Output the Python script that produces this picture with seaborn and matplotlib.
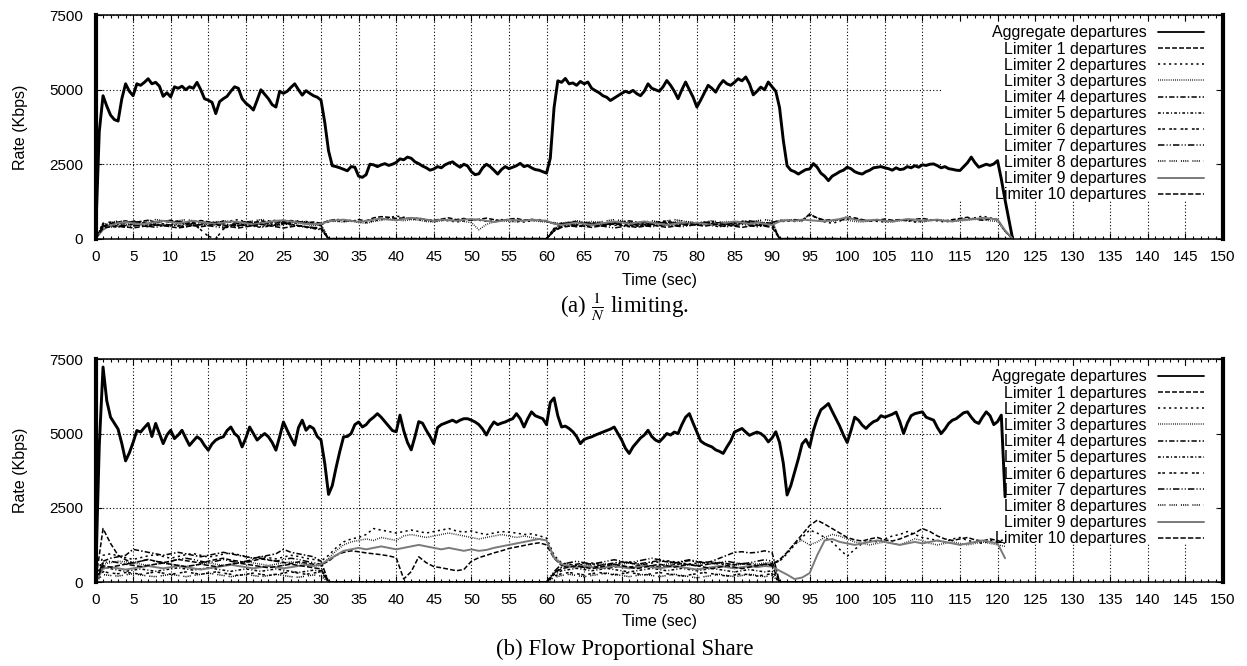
import numpy as np
import matplotlib
matplotlib.use("Agg")
import matplotlib.pyplot as plt
from matplotlib.ticker import MultipleLocator
from matplotlib.patches import Rectangle
import seaborn as sns

# ------------------------------------------------------------------
# (a) 1/N limiting  -- aggregate every 0.5 s (0..122), limiters every 1 s (0..122)
# ------------------------------------------------------------------
agg_a = [0, 3600, 4800, 4450, 4150, 4000, 3950, 4700, 5200, 4950,
         4800, 5200, 5150, 5250, 5370, 5200, 5250, 5120, 4780, 4900,
         4760, 5100, 5050, 5120, 5000, 5100, 5050, 5250, 5000, 4700,
         4650, 4580, 4200, 4600, 4700, 4780, 4950, 5100, 5050, 4700,
         4550, 4450, 4320, 4650, 5000, 4850, 4700, 4500, 4420, 4950,
         4880, 4950, 5080, 5200, 5000, 4820, 4970, 4880, 4800, 4750,
         4650, 3900, 2950, 2450, 2420, 2380, 2330, 2280, 2420, 2400,
         2100, 2060, 2150, 2500, 2480, 2420, 2480, 2520, 2460, 2500,
         2560, 2680, 2650, 2740, 2700, 2580, 2520, 2440, 2380, 2300,
         2340, 2420, 2380, 2480, 2540, 2580, 2480, 2400, 2500, 2440,
         2250, 2150, 2180, 2380, 2500, 2420, 2300, 2170, 2320, 2420,
         2350, 2400, 2450, 2530, 2420, 2460, 2380, 2320, 2300, 2250,
         2200, 2700, 4400, 5300, 5250, 5380, 5200, 5230, 5150, 5280,
         5200, 5260, 5050, 4970, 4900, 4800, 4750, 4640, 4720, 4800,
         4880, 4950, 4900, 4980, 4870, 4800, 4950, 5200, 5050, 5000,
         4950, 5100, 5310, 5150, 4950, 4700, 5000, 5260, 5000, 4750,
         4420, 4650, 4900, 5150, 5050, 4920, 5150, 5310, 5200, 5150,
         5250, 5370, 5300, 5430, 5200, 4830, 4950, 5090, 5000, 5260,
         5100, 4950, 4400, 3300, 2450, 2300, 2250, 2170, 2250, 2320,
         2340, 2520, 2400, 2200, 2100, 1950, 2100, 2170, 2250, 2300,
         2400, 2350, 2250, 2200, 2170, 2250, 2300, 2380, 2400, 2420,
         2380, 2350, 2300, 2380, 2320, 2340, 2420, 2380, 2450, 2400,
         2480, 2460, 2500, 2510, 2450, 2380, 2420, 2350, 2330, 2300,
         2290, 2420, 2550, 2740, 2550, 2400, 2450, 2500, 2460, 2510,
         2620, 2000, 1300, 650, 0]

lim1_a = ([0, 420, 500, 560, 600, 540, 580, 620, 560, 600,
           540, 580, 520, 560, 610, 570, 530, 590, 560, 520,
           580, 540, 600, 560, 520, 580, 610, 570, 540, 560, 520]
          + [600, 650, 620, 580, 640, 600, 700, 740, 720, 680,
             700, 660, 690, 640, 620, 660, 700, 640, 680, 620,
             650, 690, 640, 600, 660, 680, 620, 650, 610, 580]
          + [520, 480, 540, 560, 500, 520, 480, 540, 510, 560,
             520, 490, 550, 530, 570, 520, 500, 540, 480, 520,
             560, 510, 530, 490, 550, 520, 570, 530, 500, 540]
          + [620, 600, 640, 620, 820, 700, 620, 640, 620, 660,
             700, 640, 600, 620, 660, 620, 640, 600, 650, 680,
             640, 620, 600, 640, 680, 720, 650, 620, 660, 640, 250]
          + [0])
lim2_a = ([0, 350, 450, 500, 540, 600, 560, 500, 540, 580,
           620, 560, 500, 540, 580, 520, 480, 520, 600, 640,
           560, 500, 540, 590, 620, 560, 500, 540, 580, 520, 480]
          + [560, 600, 580, 620, 560, 540, 600, 640, 700, 760,
             720, 680, 640, 600, 580, 620, 600, 560, 600, 640,
             620, 580, 600, 640, 620, 580, 560, 600, 640, 600]
          + [480, 520, 500, 460, 500, 540, 520, 480, 440, 500,
             540, 500, 460, 520, 560, 600, 540, 500, 460, 500,
             540, 580, 520, 480, 500, 540, 500, 460, 520, 560]
          + [560, 600, 580, 620, 780, 700, 560, 520, 580, 760,
             680, 620, 600, 580, 560, 600, 640, 600, 560, 580,
             620, 600, 560, 600, 640, 660, 700, 760, 700, 640, 260]
          + [0])
lim3_a = ([0, 500, 380, 420, 480, 520, 480, 440, 500, 460,
           420, 480, 520, 480, 440, 500, 540, 480, 440, 480,
           520, 560, 500, 460, 420, 480, 540, 520, 480, 440, 460]
          + [620, 580, 560, 600, 540, 520, 580, 620, 660, 640,
             600, 640, 620, 580, 560, 600, 640, 620, 580, 540,
             300, 480, 560, 600, 580, 560, 620, 600, 580, 560]
          + [540, 500, 460, 500, 540, 580, 540, 500, 540, 580,
             540, 500, 460, 500, 540, 500, 560, 600, 540, 500,
             460, 500, 540, 580, 540, 500, 540, 580, 540, 500]
          + [600, 640, 620, 580, 840, 700, 620, 580, 640, 620,
             580, 560, 600, 620, 580, 560, 600, 620, 580, 560,
             600, 640, 620, 580, 600, 620, 660, 640, 600, 580, 240]
          + [0])
lim4_a = ([0, 450, 520, 480, 440, 500, 540, 500, 460, 420,
           480, 520, 480, 440, 480, 520, 560, 500, 460, 420,
           460, 500, 540, 500, 460, 500, 540, 580, 520, 480, 440]
          + [0] * 30
          + [300, 480, 520, 560, 520, 480, 440, 480, 520, 560,
             600, 560, 520, 480, 520, 560, 520, 480, 440, 480,
             520, 560, 520, 480, 520, 560, 600, 560, 520, 480]
          + [0] * 32)
lim5_a = ([0, 380, 420, 380, 440, 480, 440, 400, 460, 500,
           460, 420, 460, 500, 540, 500, 460, 420, 460, 500,
           460, 420, 380, 420, 460, 500, 460, 420, 380, 340, 300]
          + [0] * 30
          + [250, 420, 480, 440, 400, 440, 480, 520, 480, 440,
             400, 440, 480, 520, 480, 440, 480, 520, 560, 520,
             480, 440, 400, 440, 480, 520, 480, 440, 480, 520]
          + [0] * 32)
lim6_a = ([0, 520, 560, 500, 540, 580, 540, 500, 540, 580,
           620, 580, 540, 500, 300, 80, 0, 320, 480, 520,
           560, 520, 480, 520, 560, 520, 480, 440, 400, 380, 360]
          + [0] * 30
          + [350, 500, 540, 580, 540, 500, 460, 500, 540, 500,
             460, 420, 460, 500, 540, 580, 540, 500, 460, 500,
             540, 500, 460, 500, 540, 580, 540, 500, 460, 500]
          + [0] * 32)
lim7_a = ([0, 400, 460, 420, 380, 420, 460, 420, 380, 440,
           480, 440, 400, 440, 480, 440, 400, 360, 400, 440,
           480, 440, 400, 440, 480, 520, 480, 440, 400, 360, 320]
          + [0] * 30
          + [280, 400, 440, 400, 440, 480, 440, 400, 360, 400,
             440, 480, 440, 400, 440, 480, 440, 400, 440, 480,
             520, 480, 440, 400, 440, 480, 440, 400, 440, 480]
          + [0] * 32)
lim8_a = ([0, 480, 540, 600, 560, 520, 560, 600, 640, 600,
           560, 600, 640, 600, 560, 520, 560, 600, 560, 520,
           560, 600, 640, 600, 560, 520, 560, 600, 560, 520, 480]
          + [0] * 30
          + [320, 520, 560, 600, 560, 520, 560, 600, 640, 600,
             560, 520, 560, 600, 560, 600, 640, 600, 560, 520,
             560, 600, 560, 520, 560, 600, 560, 600, 640, 600]
          + [0] * 32)
lim9_a = ([0, 300, 450, 520, 560, 520, 480, 520, 560, 600,
           560, 520, 560, 600, 560, 520, 500, 540, 580, 560,
           520, 480, 520, 560, 600, 620, 580, 540, 500, 480, 500]
          + [580, 620, 640, 600, 560, 600, 640, 680, 640, 620,
             660, 700, 680, 640, 600, 640, 620, 600, 640, 660,
             640, 600, 560, 600, 640, 620, 600, 640, 620, 600]
          + [500, 460, 500, 540, 500, 460, 500, 540, 580, 540,
             500, 540, 580, 540, 500, 460, 500, 540, 500, 540,
             500, 460, 500, 540, 580, 540, 500, 540, 500, 460]
          + [580, 620, 600, 640, 620, 600, 580, 620, 660, 720,
             640, 600, 620, 640, 600, 580, 620, 660, 640, 600,
             620, 640, 600, 580, 620, 640, 660, 700, 680, 640, 280]
          + [0])
lim10_a = ([0, 360, 400, 440, 400, 360, 400, 440, 480, 440,
            400, 360, 400, 440, 400, 440, 480, 440, 400, 360,
            400, 440, 480, 440, 400, 360, 400, 440, 400, 360, 340]
           + [0] * 30
           + [260, 380, 420, 460, 420, 380, 420, 460, 500, 460,
              420, 380, 420, 460, 420, 380, 420, 460, 500, 460,
              420, 460, 500, 460, 420, 380, 420, 460, 420, 380]
           + [0] * 32)

# ------------------------------------------------------------------
# (b) Flow Proportional Share -- aggregate every 0.5 s (0..121), limiters every 1 s (0..121)
# ------------------------------------------------------------------
agg_b = [0, 4600, 7240, 6100, 5550, 5350, 5150, 4660, 4080, 4350,
         4700, 5100, 5050, 5200, 5340, 4900, 5340, 5000, 4660, 4950,
         5110, 4830, 4950, 5110, 4850, 4600, 4750, 4890, 4800, 4600,
         4440, 4650, 4780, 4850, 4890, 5100, 5220, 5000, 4890, 4550,
         4850, 5220, 5000, 4780, 4900, 5000, 4890, 4700, 4440, 4900,
         5390, 5110, 4850, 4610, 5200, 5450, 5110, 5250, 5170, 4900,
         4780, 3990, 2950, 3250, 3850, 4400, 4890, 4900, 5000, 5300,
         5390, 5220, 5300, 5450, 5550, 5670, 5550, 5400, 5250, 5100,
         5060, 5620, 5100, 4700, 4450, 4900, 5400, 5350, 5110, 4900,
         4660, 5200, 5300, 5350, 5400, 5450, 5380, 5450, 5500, 5500,
         5450, 5390, 5300, 5150, 4950, 5200, 5390, 5300, 5350, 5390,
         5450, 5500, 5670, 5500, 5220, 5500, 5730, 5600, 5550, 5500,
         5300, 6050, 6200, 5600, 5220, 5250, 5170, 5060, 4900, 4660,
         4800, 4850, 4890, 4950, 5000, 5050, 5100, 5150, 5220, 5000,
         4780, 4500, 4330, 4550, 4700, 4850, 4950, 5110, 4900, 4780,
         4720, 4850, 5000, 4950, 5050, 5000, 5300, 5550, 5670, 5350,
         5050, 4750, 4660, 4600, 4550, 4450, 4400, 4330, 4550, 4750,
         5050, 5110, 5170, 5050, 4940, 5000, 5050, 5000, 4900, 4720,
         4850, 5060, 4700, 4000, 2930, 3250, 3700, 4150, 4650, 4800,
         4550, 5100, 5500, 5800, 5900, 6010, 5750, 5500, 5250, 4950,
         4700, 5100, 5550, 5450, 5280, 5170, 5300, 5400, 5450, 5600,
         5550, 5600, 5650, 5720, 5400, 5000, 5350, 5600, 5670, 5700,
         5730, 5550, 5500, 5450, 5200, 5000, 5150, 5340, 5450, 5500,
         5600, 5700, 5730, 5550, 5400, 5340, 5550, 5730, 5600, 5300,
         5400, 5620, 2870]

lim1_b = ([0, 1800, 1300, 900, 750, 640, 700, 760, 700, 650,
           700, 760, 720, 680, 640, 700, 760, 800, 740, 700,
           660, 720, 780, 740, 700, 660, 620, 680, 640, 600, 580]
          + [700, 900, 1000, 1050, 1020, 980, 950, 920, 880, 820,
             100, 350, 850, 650, 520, 480, 430, 380, 420, 700,
             820, 900, 980, 1050, 1130, 1180, 1230, 1280, 1320, 1250]
          + [800, 560, 520, 480, 500, 540, 500, 460, 500, 540,
             500, 540, 580, 540, 500, 540, 580, 620, 580, 540,
             580, 620, 660, 620, 580, 620, 580, 540, 580, 600]
          + [750, 1000, 1300, 1600, 1900, 2080, 1950, 1800, 1650, 1500,
             1420, 1380, 1450, 1500, 1420, 1380, 1450, 1550, 1650, 1800,
             1700, 1550, 1450, 1400, 1450, 1500, 1420, 1380, 1450, 1400, 1300])
lim2_b = ([0, 900, 950, 880, 820, 760, 820, 880, 920, 860,
           800, 860, 920, 960, 900, 840, 880, 940, 980, 920,
           860, 800, 860, 820, 780, 840, 900, 860, 800, 760, 700]
          + [900, 1150, 1350, 1450, 1500, 1600, 1800, 1750, 1700, 1650,
             1700, 1750, 1700, 1650, 1700, 1750, 1800, 1720, 1680, 1720,
             1650, 1600, 1650, 1700, 1680, 1650, 1600, 1620, 1560, 1480]
          + [900, 640, 600, 560, 600, 640, 600, 560, 600, 640,
             680, 640, 600, 640, 680, 720, 680, 640, 600, 640,
             680, 640, 600, 560, 600, 640, 600, 560, 600, 620]
          + [700, 950, 1250, 1500, 1750, 1650, 1500, 1350, 1100, 870,
             1100, 1300, 1400, 1350, 1450, 1550, 1600, 1700, 1600, 1500,
             1450, 1400, 1350, 1450, 1500, 1400, 1350, 1300, 1400, 1350, 1450])
lim3_b = ([0, 600, 650, 700, 680, 640, 600, 560, 600, 640,
           600, 560, 520, 560, 600, 640, 600, 560, 600, 640,
           680, 640, 600, 560, 600, 640, 680, 640, 600, 560, 540]
          + [800, 1050, 1250, 1350, 1400, 1450, 1400, 1500, 1450, 1400,
             1550, 1600, 1550, 1500, 1550, 1600, 1650, 1600, 1550, 1500,
             1450, 1500, 1550, 1600, 1550, 1500, 1550, 1500, 1450, 1400]
          + [850, 620, 560, 520, 560, 600, 640, 600, 560, 600,
             640, 600, 560, 520, 560, 600, 640, 600, 560, 600,
             640, 680, 640, 600, 560, 600, 640, 600, 640, 660]
          + [700, 1000, 1300, 1400, 1250, 1350, 1500, 1600, 1550, 1450,
             1350, 1300, 1250, 1300, 1350, 1300, 1250, 1350, 1450, 1400,
             1300, 1250, 1300, 1350, 1300, 1250, 1300, 1350, 1300, 1250, 1200])
lim4_b = ([0, 700, 800, 850, 900, 1100, 1050, 1000, 950, 900,
           950, 1000, 950, 900, 850, 900, 950, 1000, 950, 900,
           850, 800, 850, 900, 950, 1100, 1000, 950, 900, 850, 700]
          + [0] * 30
          + [300, 500, 560, 600, 640, 600, 560, 600, 640, 680,
             640, 600, 640, 680, 720, 680, 640, 680, 720, 680,
             640, 700, 800, 900, 1000, 1020, 980, 1000, 1050, 1000]
          + [0] * 31)
lim5_b = ([0, 500, 450, 400, 360, 400, 440, 400, 360, 400,
           440, 480, 440, 400, 440, 480, 440, 400, 360, 400,
           440, 400, 360, 400, 440, 400, 360, 320, 360, 400, 380]
          + [0] * 30
          + [250, 380, 420, 460, 420, 380, 420, 460, 420, 380,
             340, 380, 420, 460, 420, 380, 420, 460, 420, 380,
             420, 460, 420, 380, 340, 380, 420, 380, 340, 380]
          + [0] * 31)
lim6_b = ([0, 350, 300, 280, 320, 300, 260, 300, 340, 300,
           260, 300, 340, 300, 260, 300, 340, 300, 260, 220,
           260, 300, 260, 220, 260, 300, 340, 300, 260, 300, 350]
          + [0] * 30
          + [200, 280, 320, 280, 240, 280, 320, 280, 240, 280,
             320, 280, 240, 280, 320, 280, 240, 200, 240, 280,
             320, 280, 240, 200, 240, 280, 240, 200, 240, 280]
          + [0] * 31)
lim7_b = ([0, 650, 700, 650, 600, 650, 700, 760, 700, 650,
           700, 760, 800, 760, 700, 650, 700, 760, 700, 650,
           700, 760, 800, 760, 700, 760, 800, 760, 700, 650, 600]
          + [0] * 30
          + [350, 600, 650, 700, 650, 600, 650, 700, 750, 700,
             650, 700, 750, 800, 750, 700, 650, 700, 750, 700,
             650, 600, 650, 700, 650, 600, 650, 700, 750, 700]
          + [0] * 31)
lim8_b = ([0, 250, 220, 200, 240, 280, 240, 200, 180, 220,
           260, 220, 180, 220, 260, 300, 260, 220, 180, 220,
           260, 220, 180, 220, 260, 220, 180, 160, 200, 240, 200]
          + [0] * 30
          + [150, 220, 260, 220, 180, 220, 260, 300, 260, 220,
             180, 220, 260, 220, 180, 220, 260, 220, 180, 140,
             180, 220, 260, 220, 180, 220, 260, 220, 180, 220]
          + [0] * 31)
lim9_b = ([0, 450, 500, 460, 420, 460, 500, 540, 500, 460,
           500, 540, 500, 460, 420, 460, 500, 540, 580, 540,
           500, 460, 500, 540, 500, 460, 500, 540, 580, 540, 600]
          + [750, 900, 1050, 1100, 1150, 1100, 1150, 1200, 1150, 1100,
             1150, 1200, 1250, 1200, 1150, 1100, 1150, 1100, 1050, 1100,
             1050, 1080, 1150, 1200, 1250, 1300, 1350, 1400, 1450, 1400]
          + [820, 600, 540, 500, 540, 500, 460, 500, 540, 500,
             460, 500, 540, 500, 460, 500, 540, 500, 460, 420,
             460, 500, 540, 500, 460, 500, 540, 500, 540, 520]
          + [380, 250, 100, 150, 300, 900, 1400, 1450, 1350, 1300,
             1250, 1300, 1350, 1400, 1350, 1300, 1250, 1300, 1350, 1300,
             1350, 1400, 1350, 1300, 1250, 1300, 1350, 1400, 1350, 1300, 800])
lim10_b = ([0, 550, 500, 550, 600, 560, 520, 560, 600, 640,
            600, 560, 520, 560, 600, 560, 520, 560, 600, 640,
            600, 560, 520, 480, 520, 560, 600, 560, 520, 480, 440]
           + [0] * 30
           + [300, 450, 500, 550, 500, 450, 500, 550, 600, 550,
              500, 450, 500, 550, 600, 550, 500, 550, 600, 550,
              500, 450, 500, 550, 500, 450, 500, 550, 600, 550]
           + [0] * 31)

t_agg_a = np.arange(0, 122.01, 0.5)
t_lim_a = np.arange(0, 123)
t_agg_b = np.arange(0, 121.01, 0.5)
t_lim_b = np.arange(0, 122)

limiters_a = [lim1_a, lim2_a, lim3_a, lim4_a, lim5_a, lim6_a, lim7_a, lim8_a, lim9_a, lim10_a]
limiters_b = [lim1_b, lim2_b, lim3_b, lim4_b, lim5_b, lim6_b, lim7_b, lim8_b, lim9_b, lim10_b]

series_labels = ["Aggregate departures"] + ["Limiter %d departures" % i for i in range(1, 11)]

assert len(agg_a) == len(t_agg_a), len(agg_a)
assert len(agg_b) == len(t_agg_b), len(agg_b)
for i, s in enumerate(limiters_a):
    assert len(s) == len(t_lim_a), ("a", i + 1, len(s))
for i, s in enumerate(limiters_b):
    assert len(s) == len(t_lim_b), ("b", i + 1, len(s))

# gnuplot-like line types for the limiters
lim_styles = [(0, (3.2, 1.4)), (0, (1.4, 2.2)), (0, (0.5, 0.9)), (0, (3.5, 1.4, 1.0, 1.4)),
              (0, (1.8, 1.4, 0.7, 1.4)), (0, (1.8, 1.0, 1.8, 2.8)), (0, (4.2, 1.4, 0.7, 1.4, 0.7, 1.4)),
              (0, (0.7, 0.7, 0.7, 0.7, 0.7, 0.7, 0.7, 2.6)), "-", (0, (3.5, 1.4))]
lim_colors = ["black"] * 8 + ["#7a7a7a", "black"]
lim_widths = [1.1] * 8 + [1.4, 1.1]

sns.set_theme(context="paper", style="white")
plt.rcParams["font.family"] = ["Liberation Sans", "DejaVu Sans"]
plt.rcParams["mathtext.fontset"] = "stix"
for key in ["text.color", "axes.labelcolor", "xtick.color", "ytick.color", "axes.edgecolor"]:
    plt.rcParams[key] = "black"

fig = plt.figure(figsize=(12.47, 6.66), dpi=100)
ax_a = fig.add_axes([0.0766, 0.6416, 0.9042, 0.3354])
ax_b = fig.add_axes([0.0766, 0.1261, 0.9042, 0.3344])


def draw_panel(ax, t_agg, agg, t_lim, limiters, xlabel_y):
    sns.lineplot(x=t_agg, y=agg, ax=ax, color="black", linewidth=2.1, estimator=None)
    handles = [ax.lines[-1]]
    for vals, ls, c, lw in zip(limiters, lim_styles, lim_colors, lim_widths):
        sns.lineplot(x=t_lim, y=vals, ax=ax, color=c, linewidth=lw, linestyle=ls, estimator=None)
        handles.append(ax.lines[-1])

    ax.set_xlim(0, 150)
    ax.set_ylim(0, 7500)
    ax.set_xticks(range(0, 151, 5))
    ax.xaxis.set_minor_locator(MultipleLocator(1))
    ax.set_yticks([0, 2500, 5000, 7500])
    ax.tick_params(which="both", direction="in", top=True, right=True, bottom=True, left=True,
                   width=0.8, color="black", labelsize=11)
    ax.tick_params(which="major", length=4.5)
    ax.tick_params(which="minor", length=2.5)
    ax.tick_params(axis="x", pad=8)
    ax.tick_params(axis="y", pad=9)
    ax.grid(True, which="major", color="black", linestyle=(0, (1, 2)), linewidth=0.8)
    ax.set_axisbelow(True)
    for side in ("left", "right"):
        ax.spines[side].set_linewidth(3)
        ax.spines[side].set_color("black")
    for side in ("top", "bottom"):
        ax.spines[side].set_linewidth(1.1)
        ax.spines[side].set_color("black")

    # opaque key area (hides the grid, like gnuplot's opaque key)
    ax.add_patch(Rectangle((0.751, 0.173), 0.9938 - 0.751, 0.969 - 0.173, transform=ax.transAxes,
                           facecolor="white", edgecolor="none", zorder=1))

    ax.set_xlabel("Time (sec)", fontsize=11.5)
    ax.set_ylabel("Rate (Kbps)", fontsize=11.5)
    ax.xaxis.set_label_coords(0.5, xlabel_y)
    ax.yaxis.set_label_coords(-0.060, 0.5)

    leg = ax.legend(handles, series_labels, loc="upper right", bbox_to_anchor=(0.9831, 0.955),
                    borderaxespad=0, borderpad=0, frameon=False, markerfirst=False,
                    handlelength=2.9, handletextpad=0.7, labelspacing=0.075, fontsize=11.5)
    # thinner samples in the key, as in the original
    for line in leg.get_lines()[:1]:
        line.set_linewidth(1.3)


draw_panel(ax_a, t_agg_a, agg_a, t_lim_a, limiters_a, -0.154)
draw_panel(ax_b, t_agg_b, agg_b, t_lim_b, limiters_b, -0.144)

serif = ["Liberation Serif", "DejaVu Serif"]
fig.text(0.501, 0.539, r"(a) $\frac{1}{N}$ limiting.", ha="center", va="center",
         fontsize=16.5, family=serif)
fig.text(0.501, 0.0255, "(b) Flow Proportional Share", ha="center", va="center",
         fontsize=16.5, family=serif)

fig.savefig("out.png", dpi=100)
